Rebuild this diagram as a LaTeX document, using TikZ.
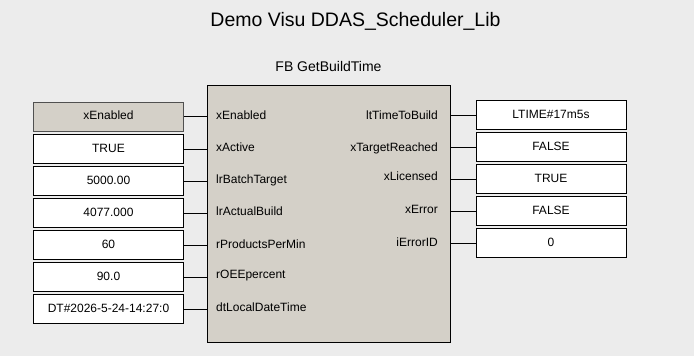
\documentclass[tikz,border=0pt]{standalone}
\usepackage{fontspec}
\setmainfont{Liberation Sans}
\definecolor{bgc}{HTML}{ECECEC}
\definecolor{fbc}{HTML}{D4D0C8}
\definecolor{edgegray}{HTML}{505050}
\begin{document}
\begin{tikzpicture}[x=1pt,y=-1pt,
  valbox/.style={draw=black, line width=1pt, fill=white, minimum width=150pt, minimum height=29pt, inner sep=0pt, text height=9pt, text depth=2.5pt, font=\fontsize{12}{14}\selectfont},
  pinlbl/.style={inner sep=0pt, text height=9pt, text depth=2.5pt, font=\fontsize{12}{14}\selectfont},
  wire/.style={line width=1pt}]
\fill[bgc] (0,0) rectangle (694,356);
\useasboundingbox (0,0) rectangle (694,356);
\node[inner sep=0pt, font=\fontsize{19.5}{22}\selectfont] (title) at (355.5,21) {Demo Visu DDAS\_Scheduler\_Lib};
\node[inner sep=0pt, font=\fontsize{14}{16}\selectfont] (fbname) at (328.5,66) {FB GetBuildTime};
\node[draw=black, line width=1pt, fill=fbc, minimum width=243pt, minimum height=257pt, inner sep=0pt] (fb) at (328.5,213.5) {};
% inputs
\node[valbox, fill=fbc, draw=edgegray] (i1) at (108.5,116.5) {xEnabled};
\node[valbox] (i2) at (108.5,149) {TRUE};
\node[valbox] (i3) at (108.5,181) {5000.00};
\node[valbox] (i4) at (108.5,213) {4077.000};
\node[valbox] (i5) at (108.5,245) {60};
\node[valbox] (i6) at (108.5,277) {90.0};
\node[valbox] (i7) at (108.5,309) {DT\#2026-5-24-14:27:0};
\foreach \n in {i1,i2,i3,i4,i5,i6,i7} \draw[wire] (\n.east) -- (\n.east -| fb.west);
\node[pinlbl, anchor=west] (p1) at (216,116) {xEnabled};
\node[pinlbl, anchor=west] (p2) at (216,148) {xActive};
\node[pinlbl, anchor=west] (p3) at (216,180) {lrBatchTarget};
\node[pinlbl, anchor=west] (p4) at (216,212) {lrActualBuild};
\node[pinlbl, anchor=west] (p5) at (216,245) {rProductsPerMin};
\node[pinlbl, anchor=west] (p6) at (216,275) {rOEEpercent};
\node[pinlbl, anchor=west] (p7) at (216,308) {dtLocalDateTime};
% outputs
\node[valbox] (o1) at (551,115) {LTIME\#17m5s};
\node[valbox] (o2) at (551,147) {FALSE};
\node[valbox] (o3) at (551,179) {TRUE};
\node[valbox] (o4) at (551,211) {FALSE};
\node[valbox] (o5) at (551,243) {0};
\foreach \n in {o1,o2,o3,o4,o5} \draw[wire] (\n.west) -- (\n.west -| fb.east);
\node[pinlbl, anchor=east] (q1) at (438,116) {ltTimeToBuild};
\node[pinlbl, anchor=east] (q2) at (438,148) {xTargetReached};
\node[pinlbl, anchor=east] (q3) at (438,177) {xLicensed};
\node[pinlbl, anchor=east] (q4) at (438,210) {xError};
\node[pinlbl, anchor=east] (q5) at (438,243) {iErrorID};
\end{tikzpicture}
\end{document}
